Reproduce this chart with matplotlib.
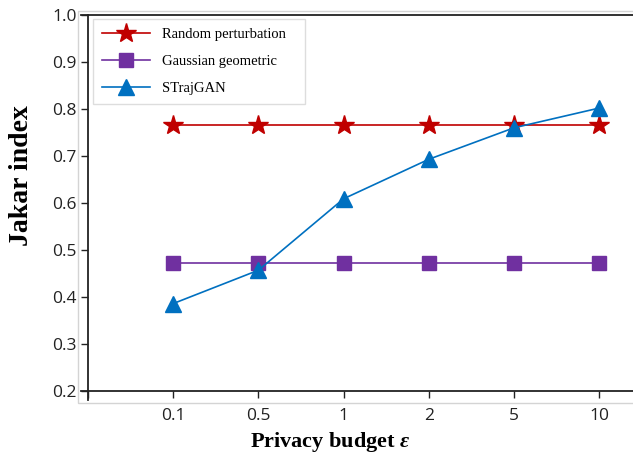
import matplotlib
matplotlib.use("Agg")
import matplotlib.pyplot as plt
from matplotlib.patches import Rectangle

# data
budgets = ["0.1", "0.5", "1", "2", "5", "10"]
random_perturbation = [0.765, 0.765, 0.765, 0.765, 0.765, 0.765]
gaussian_geometric = [0.472, 0.472, 0.472, 0.472, 0.472, 0.472]
strajgan = [0.386, 0.457, 0.609, 0.693, 0.760, 0.802]
yticks = [0.2, 0.3, 0.4, 0.5, 0.6, 0.7, 0.8, 0.9, 1.0]

plt.rcParams["mathtext.fontset"] = "custom"
plt.rcParams["mathtext.it"] = "Liberation Serif:italic:bold"
plt.rcParams["mathtext.rm"] = "Liberation Serif:bold"

W, H = 633, 457
fig = plt.figure(figsize=(W / 100, H / 100), dpi=100)

# faint outer frame
fig.patches.append(Rectangle((78 / W, 1 - 403 / H), 1.0, (403 - 11) / H,
                             transform=fig.transFigure, fill=False,
                             edgecolor="#d4d4d4", lw=1.0))

ax = fig.add_axes([81 / W, 1 - 400 / H, 1 - 81 / W, (400 - 15) / H])
ax.patch.set_alpha(0)

x = list(range(1, len(budgets) + 1))
ax.plot(x, random_perturbation, color="#C00000", lw=1.2, marker="*",
        markersize=15, label="Random perturbation")
ax.plot(x, gaussian_geometric, color="#7030A0", lw=1.2, marker="s",
        markersize=10, label="Gaussian geometric")
ax.plot(x, strajgan, color="#0070C0", lw=1.2, marker="^",
        markersize=11, label="STrajGAN")

px = 85.2
ax.set_xlim(-7 / px, -7 / px + (W - 81) / px)
ax.set_ylim(1.0 - 385 / 470, 1.0)

ax.spines["left"].set_position(("data", 0))
ax.spines["bottom"].set_position(("data", 0.2))
ax.spines["right"].set_visible(False)
for s in ["left", "bottom", "top"]:
    ax.spines[s].set_color("#222222")
    ax.spines[s].set_linewidth(1.3)

ax.set_xticks([0] + x)
ax.set_xticklabels([""] + budgets)
ax.set_yticks(yticks)
ax.set_yticklabels([f"{v:.1f}" for v in yticks])
ax.tick_params(axis="both", direction="out", length=5, width=1.0,
               color="#222222", labelsize=12.5, labelcolor="#222222")
ax.tick_params(axis="y", pad=3)
ax.tick_params(axis="x", pad=7)
for lab in ax.get_xticklabels() + ax.get_yticklabels():
    lab.set_family("Open Sans")

fig.text(22 / W, 1 - 176 / H, "Jakar index", rotation=90, ha="center",
         va="center", family="Liberation Serif", fontweight="bold", fontsize=20)
fig.text(330 / W, 1 - 442 / H, r"Privacy budget $\varepsilon$",
         ha="center", va="center", family="Liberation Serif",
         fontweight="bold", fontsize=16)

leg = ax.legend(loc="upper left",
                bbox_to_anchor=(93 / W, 1 - 103 / H, 212 / W, 84 / H),
                bbox_transform=fig.transFigure, mode="expand",
                frameon=True, fancybox=False,
                edgecolor="#dddddd", framealpha=1,
                prop={"family": "Liberation Serif", "size": 10.5},
                handlelength=3.3, labelspacing=0.95, borderpad=0.6,
                borderaxespad=0, handletextpad=0.8)
leg.get_frame().set_linewidth(1.0)

fig.savefig("out.png", dpi=100)
